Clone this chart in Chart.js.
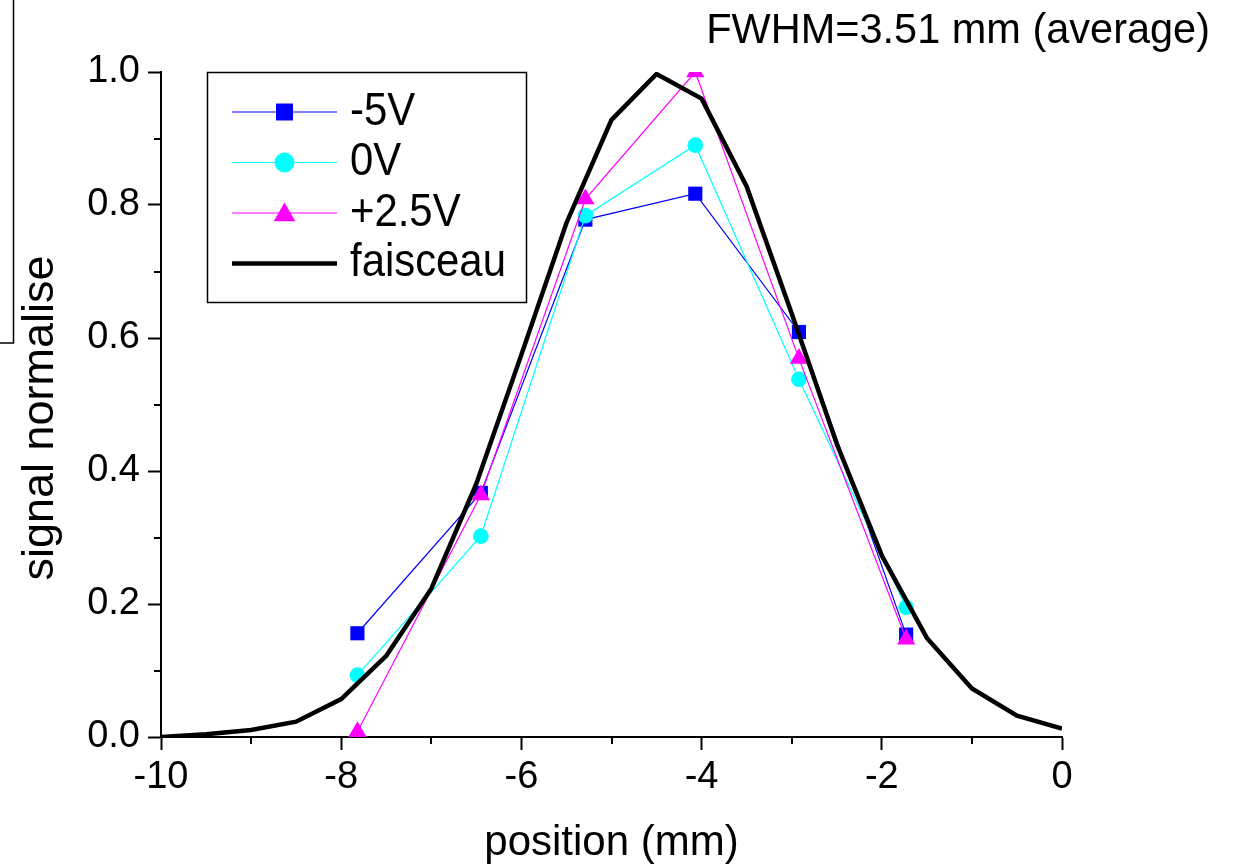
<!DOCTYPE html>
<html>
<head>
<meta charset="utf-8">
<title>signal normalise vs position</title>
<script src="https://cdn.jsdelivr.net/npm/chart.js@4/dist/chart.umd.min.js"></script>
<style>
  html, body { margin: 0; padding: 0; background: #ffffff; }
  #wrap { width: 1236px; height: 868px; }
</style>
</head>
<body>
<div id="wrap"><canvas id="c" width="1236" height="868"></canvas></div>
<script>
const FONT = '"Liberation Sans", Arial, Helvetica, sans-serif';

// Measured detector positions (mm) and normalised signal for each bias voltage
const positions = [-7.82, -6.45, -5.29, -4.07, -2.92, -1.73];
const signalMinus5V = [0.156, 0.367, 0.778, 0.817, 0.609, 0.154];
const signal0V = [0.093, 0.302, 0.784, 0.890, 0.538, 0.195];
const signalPlus2_5V = [0.008, 0.364, 0.809, 1.0, 0.569, 0.147];

// Beam profile (faisceau)
const beamPositions = [-10, -9.5, -9, -8.5, -8, -7.5, -7, -6.5, -6, -5.5, -5, -4.5, -4, -3.5, -3, -2.5, -2, -1.5, -1, -0.5, 0];
const beamProfile = [0, 0.004, 0.0105, 0.023, 0.057, 0.122, 0.223, 0.381, 0.575, 0.773, 0.928, 0.997, 0.960, 0.828, 0.637, 0.441, 0.273, 0.149, 0.073, 0.032, 0.0125];

// Axis ticks
const xTicks = [-10, -8, -6, -4, -2, 0];
const xMinorTicks = [-9, -7, -5, -3, -1];
const yTicks = [0, 0.2, 0.4, 0.6, 0.8, 1.0];
const yMinorTicks = [0.1, 0.3, 0.5, 0.7, 0.9];

// Texts
const seriesLabels = ['-5V', '0V', '+2.5V', 'faisceau'];
const headerText = 'FWHM=3.51 mm (average)';
const xTitleText = 'position (mm)';
const yTitleText = 'signal normalise';

const toPoints = (xs, ys) => xs.map((x, i) => ({ x: x, y: ys[i] }));

// Draw text squeezed horizontally by `sx`
function drawScaledText(ctx, text, x, y, font, sx, align, baseline, rotation) {
  ctx.save();
  ctx.translate(x, y);
  if (rotation) ctx.rotate(rotation);
  ctx.scale(sx, 1);
  ctx.font = font;
  ctx.fillStyle = '#000';
  ctx.textAlign = align;
  ctx.textBaseline = baseline;
  ctx.fillText(text, 0, 0);
  ctx.restore();
}

// White page, and the corner of the neighbouring frame at the top left
const backdrop = {
  id: 'backdrop',
  beforeDraw(chart) {
    const ctx = chart.ctx;
    ctx.save();
    ctx.fillStyle = '#fff';
    ctx.fillRect(0, 0, chart.width, chart.height);
    ctx.strokeStyle = '#000';
    ctx.lineWidth = 1.5;
    ctx.strokeRect(-10, -10, 23.5, 353);
    ctx.restore();
  }
};

// Short minor ticks between the labelled ones
const minorTicks = {
  id: 'minorTicks',
  afterDraw(chart) {
    const ctx = chart.ctx;
    const xs = chart.scales.x, ys = chart.scales.y;
    const { left, bottom } = chart.chartArea;
    ctx.save();
    ctx.strokeStyle = '#000';
    ctx.lineWidth = 2;
    ctx.beginPath();
    xMinorTicks.forEach(v => {
      const px = Math.round(xs.getPixelForValue(v));
      ctx.moveTo(px, bottom);
      ctx.lineTo(px, bottom + 7);
    });
    yMinorTicks.forEach(v => {
      const py = Math.round(ys.getPixelForValue(v));
      ctx.moveTo(left - 7, py);
      ctx.lineTo(left, py);
    });
    ctx.stroke();
    ctx.restore();
  }
};

// Vertical axis title and the header note
const annotations = {
  id: 'annotations',
  afterDraw(chart) {
    const ctx = chart.ctx;
    const { top, bottom } = chart.chartArea;
    drawScaledText(ctx, yTitleText, 53, (top + bottom) / 2 + 13.5,
      '45px ' + FONT, 1.0, 'center', 'alphabetic', -Math.PI / 2);
    drawScaledText(ctx, headerText, 1210, 43,
      '43px ' + FONT, 0.965, 'right', 'alphabetic', 0);
  }
};

// Legend marker sizes (larger than in the plot)
const legendMarkerRadius = { rect: 12, circle: 10, triangle: 12.5 };

// Framed legend: line sample with marker, then the series name
const framedLegend = {
  id: 'framedLegend',
  afterDraw(chart) {
    const ctx = chart.ctx;
    const { left, top } = chart.chartArea;
    const bx = left + 46.5, by = top + 0.5, bw = 319, bh = 230;
    ctx.save();
    ctx.fillStyle = '#fff';
    ctx.fillRect(bx, by, bw, bh);
    ctx.strokeStyle = '#000';
    ctx.lineWidth = 1.5;
    ctx.strokeRect(bx, by, bw, bh);

    const order = seriesLabels.map(l => chart.data.datasets.find(d => d.label === l));
    order.forEach((ds, i) => {
      const y = by + 39.5 + i * 50.5;
      const x0 = bx + 24.5, x1 = bx + 129.5, xm = (x0 + x1) / 2;
      ctx.strokeStyle = ds.borderColor;
      ctx.lineWidth = ds.pointRadius > 0 ? 1.2 : 4.5;
      ctx.beginPath();
      ctx.moveTo(x0, y);
      ctx.lineTo(x1, y);
      ctx.stroke();
      if (ds.pointRadius > 0) {
        ctx.fillStyle = ds.backgroundColor;
        Chart.helpers.drawPoint(ctx, {
          pointStyle: ds.pointStyle,
          radius: legendMarkerRadius[ds.pointStyle],
          rotation: 0,
          borderWidth: 0
        }, xm, ds.pointStyle === 'triangle' ? y + 2 : y);
      }
      drawScaledText(ctx, ds.label, bx + 142.5, y, '46px ' + FONT, 0.91, 'left', 'middle', 0);
    });
    ctx.restore();
  }
};

new Chart(document.getElementById('c'), {
  type: 'line',
  data: {
    datasets: [
      {
        label: 'faisceau',
        data: toPoints(beamPositions, beamProfile),
        borderColor: '#000000',
        backgroundColor: '#000000',
        borderWidth: 4.5,
        borderJoinStyle: 'miter',
        pointRadius: 0,
        tension: 0,
        order: 1
      },
      {
        label: '+2.5V',
        data: toPoints(positions, signalPlus2_5V),
        borderColor: '#ff00ff',
        backgroundColor: '#ff00ff',
        borderWidth: 1.2,
        pointStyle: 'triangle',
        pointRadius: 10.5,
        pointBorderWidth: 0,
        tension: 0,
        order: 2
      },
      {
        label: '0V',
        data: toPoints(positions, signal0V),
        borderColor: '#00ffff',
        backgroundColor: '#00ffff',
        borderWidth: 1.2,
        pointStyle: 'circle',
        pointRadius: 7.8,
        pointBorderWidth: 0,
        tension: 0,
        order: 3
      },
      {
        label: '-5V',
        data: toPoints(positions, signalMinus5V),
        borderColor: '#0000ff',
        backgroundColor: '#0000ff',
        borderWidth: 1.2,
        pointStyle: 'rect',
        pointRadius: 10,
        pointBorderWidth: 0,
        tension: 0,
        order: 4
      }
    ]
  },
  options: {
    responsive: false,
    animation: false,
    events: [],
    layout: { padding: { left: 0, top: 72, right: 174, bottom: 0 } },
    plugins: {
      legend: { display: false },
      tooltip: { enabled: false },
      title: { display: false }
    },
    scales: {
      x: {
        type: 'linear',
        min: -10,
        max: 0,
        afterBuildTicks: s => { s.ticks = xTicks.map(v => ({ value: v })); },
        afterFit: s => { s.height = 131; },
        ticks: {
          font: { family: FONT, size: 38 },
          color: '#000',
          padding: 5,
          maxRotation: 0,
          autoSkip: false,
          callback: v => String(v)
        },
        grid: {
          drawOnChartArea: false,
          drawTicks: true,
          tickLength: 13,
          tickWidth: 2,
          tickColor: '#000'
        },
        border: { display: true, color: '#000', width: 2 },
        title: {
          display: true,
          text: xTitleText,
          color: '#000',
          font: { family: FONT, size: 42, lineHeight: 1.15 },
          padding: { top: 0, bottom: 0 }
        }
      },
      y: {
        type: 'linear',
        min: 0,
        max: 1,
        afterBuildTicks: s => { s.ticks = yTicks.map(v => ({ value: v })); },
        afterFit: s => { s.width = 161; },
        ticks: {
          font: { family: FONT, size: 38 },
          color: '#000',
          padding: 8,
          autoSkip: false,
          callback: v => Number(v).toFixed(1)
        },
        grid: {
          drawOnChartArea: false,
          drawTicks: true,
          tickLength: 13,
          tickWidth: 2,
          tickColor: '#000'
        },
        border: { display: true, color: '#000', width: 2 },
        title: { display: false }
      }
    }
  },
  plugins: [backdrop, minorTicks, annotations, framedLegend]
});
</script>
</body>
</html>
